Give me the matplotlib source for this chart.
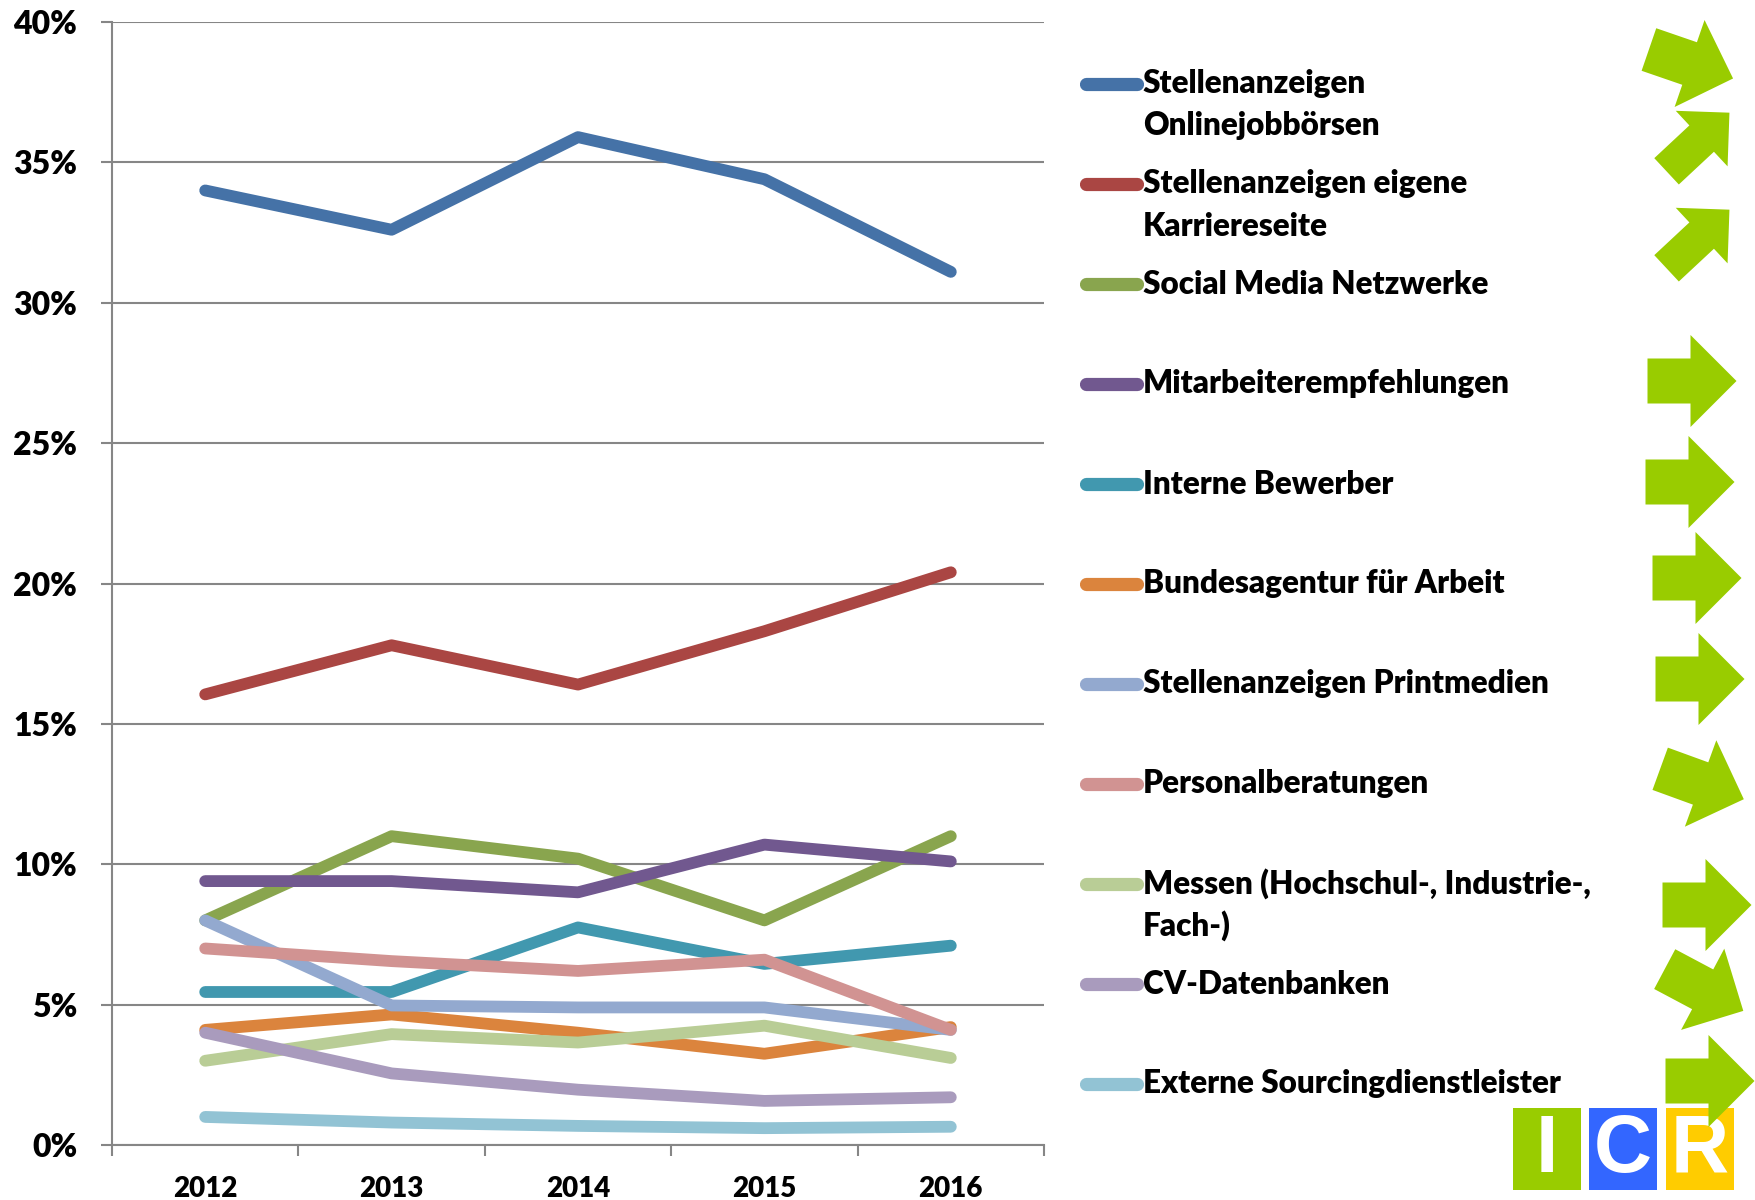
import numpy as np
import matplotlib
matplotlib.use("Agg")
import matplotlib.pyplot as plt
from matplotlib.patches import FancyArrow, Rectangle

# data (percent)
years = ["2012", "2013", "2014", "2015", "2016"]

labels = [
    "Stellenanzeigen\nOnlinejobbörsen",
    "Stellenanzeigen eigene\nKarriereseite",
    "Social Media Netzwerke",
    "Mitarbeiterempfehlungen",
    "Interne Bewerber",
    "Bundesagentur für Arbeit",
    "Stellenanzeigen Printmedien",
    "Personalberatungen",
    "Messen (Hochschul-, Industrie-,\nFach-)",
    "CV-Datenbanken",
    "Externe Sourcingdienstleister",
]

online_jobboersen = [34.0, 32.6, 35.9, 34.4, 31.1]
karriereseite = [16.05, 17.8, 16.4, 18.3, 20.4]
social_media = [8.0, 11.0, 10.2, 8.0, 11.0]
mitarbeiter = [9.4, 9.4, 9.0, 10.7, 10.1]
intern = [5.45, 5.45, 7.75, 6.45, 7.1]
bundesagentur = [4.1, 4.65, 4.0, 3.25, 4.2]
printmedien = [8.0, 4.97, 4.9, 4.9, 4.1]
personalberatung = [7.0, 6.55, 6.2, 6.6, 4.1]
messen = [3.0, 3.95, 3.65, 4.25, 3.1]
cv_datenbanken = [4.0, 2.55, 1.97, 1.57, 1.7]
sourcing = [1.0, 0.8, 0.68, 0.6, 0.65]

series = [online_jobboersen, karriereseite, social_media, mitarbeiter, intern,
          bundesagentur, printmedien, personalberatung, messen, cv_datenbanken,
          sourcing]

colors = ["#4572A7", "#AA4643", "#89A54E", "#71588F", "#4198AF", "#DB843D",
          "#93A9CF", "#D19392", "#B9CD96", "#A99BBD", "#92C3D4"]

# trend arrows next to the legend (degrees, 0 = flat)
trend_angles = [-19, 43, 43, 0, 0, 0, 0, -20, 0, -28, 0]

plt.rcParams["font.family"] = ["Lato", "DejaVu Sans"]
plt.rcParams["font.weight"] = "heavy"
FW = "heavy"

W, H = 1756, 1200
fig = plt.figure(figsize=(W / 100, H / 100), dpi=100)

ax_l, ax_r, ax_t, ax_b = 112, 1044, 22, 1145
ax = fig.add_axes([ax_l / W, (H - ax_b) / H, (ax_r - ax_l) / W, (ax_b - ax_t) / H])

x = np.arange(len(years))
for vals, c in zip(series, colors):
    ax.plot(x, vals, color=c, lw=8.5, solid_capstyle="round",
            solid_joinstyle="round", zorder=3)

grid_c = "#868686"
ax.set_xlim(-0.5, len(years) - 0.5)
ax.set_ylim(0, 40)
ax.set_yticks(np.arange(0, 41, 5))
ax.set_yticklabels([f"{v}%" for v in range(0, 41, 5)], fontsize=23, fontweight=FW)
ax.set_xticks(x)
ax.set_xticklabels(years, fontsize=20, fontweight=FW)
ax.set_xticks(np.arange(-0.5, len(years)), minor=True)
ax.tick_params(axis="x", which="major", length=0, pad=22)
ax.tick_params(axis="x", which="minor", length=8, width=1.5, color=grid_c, direction="out")
ax.tick_params(axis="y", length=8, width=1.5, color=grid_c, pad=17)
ax.yaxis.grid(True, color=grid_c, lw=1.5, zorder=0)
ax.set_axisbelow(True)
for s in ["top", "right"]:
    ax.spines[s].set_visible(False)
for s in ["left", "bottom"]:
    ax.spines[s].set_color(grid_c)
    ax.spines[s].set_linewidth(1.5)

# overlay in pixel coordinates for legend, arrows and logo
ov = fig.add_axes([0, 0, 1, 1])
ov.set_xlim(0, W)
ov.set_ylim(H, 0)
ov.axis("off")

row0, row_step, line_step = 84, 100, 42
arrow_y = [64, 142, 239, 381, 482, 578, 679, 784, 905, 990, 1081]
arrow_x = [1691, 1698, 1698, 1692, 1690, 1697, 1700, 1702, 1707, 1704, 1710]
green = "#99CC00"

for i, (lab, c, ang) in enumerate(zip(labels, colors, trend_angles)):
    y = row0 + i * row_step
    ov.plot([1086, 1137], [y, y], color=c, lw=9.5, solid_capstyle="round")
    for j, line in enumerate(lab.split("\n")):
        ov.text(1143, y + j * line_step, line, fontsize=22.7, fontweight=FW,
                va="center", ha="left")
    if abs(ang) > 30:
        L, bw, hw, hl = 86, 36, 76, 38
    else:
        L, bw, hw, hl = 89, 45, 92, 46
    rad = np.deg2rad(ang)
    dx, dy = L * np.cos(rad), -L * np.sin(rad)
    cx, cy = arrow_x[i], arrow_y[i]
    ov.add_patch(FancyArrow(cx - dx / 2, cy - dy / 2, dx, dy, width=bw,
                            head_width=hw, head_length=hl,
                            length_includes_head=True, color=green, lw=0, zorder=5))

# ICR logo
for x0, c, letter in [(1513, "#99CC00", "I"), (1589, "#3366FF", "C"), (1666, "#FFCC00", "R")]:
    ov.add_patch(Rectangle((x0, 1108), 68, 82, color=c, lw=0, zorder=3))
    ov.text(x0 + 34, 1151, letter, color="white", fontsize=58, fontweight="bold",
            family="Liberation Sans", ha="center", va="center", zorder=4)

fig.savefig("out.png", dpi=100)
